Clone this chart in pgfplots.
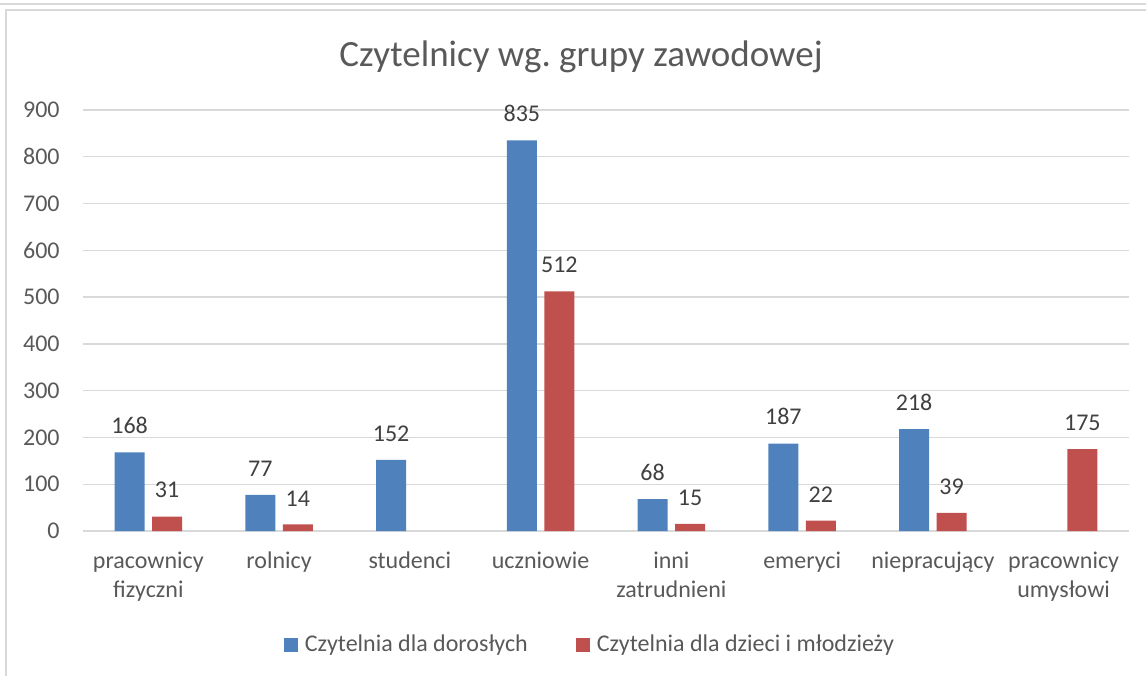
\documentclass[border=0pt]{standalone}
\usepackage{pgfplots}
\pgfplotsset{compat=1.18}
\usepackage{fontspec}
\setmainfont{Carlito}
\definecolor{cblue}{HTML}{4F81BD}
\definecolor{cred}{HTML}{C0504D}
\definecolor{tgray}{HTML}{595959}
\definecolor{lgray}{HTML}{404040}
\definecolor{ggray}{HTML}{D9D9D9}
\begin{document}
\begin{tikzpicture}
\useasboundingbox (0,0) rectangle (573pt,337.5pt);
\draw[ggray, line width=0.8pt] (0,335.5pt) -- (573pt,335.5pt);
\draw[ggray, line width=0.8pt] (3pt,-1pt) -- (3pt,332.5pt) -- (574pt,332.5pt);
\node[font=\fontsize{18.5}{22}\selectfont, text=tgray, anchor=base, inner sep=0pt] at (290.5pt,304pt) {Czytelnicy wg.\ grupy zawodowej};
\begin{axis}[
  at={(41.5pt,72pt)}, anchor=south west,
  scale only axis, width=523pt, height=210.5pt,
  ybar=3.75pt, bar width=15pt,
  xmin=-0.5, xmax=7.5, ymin=0, ymax=900,
  xtick={0,...,7},
  xticklabels={{\strut pracownicy\\fizyczni},{\strut rolnicy},{\strut studenci},{\strut uczniowie},{\strut inni\\zatrudnieni},{\strut emeryci},{\strut niepracujący},{\strut pracownicy\\umysłowi}},
  ytick={0,100,...,900},
  ymajorgrids, major grid style={ggray, line width=0.7pt},
  axis line style={draw=none},
  major tick length=0pt,
  tick style={draw=none},
  /pgf/number format/assume math mode=true,
  yticklabel style={font=\fontsize{12}{14.6}\selectfont, text=tgray, inner sep=0pt, anchor=east, xshift=-11.5pt},
  xticklabel style={font=\fontsize{12}{14.6}\selectfont, text=tgray, inner sep=0pt, anchor=north, align=center, yshift=-8.3pt},
  nodes near coords,
  every node near coord/.append style={font=\fontsize{12}{14.6}\selectfont, text=lgray, inner sep=0pt, anchor=south, yshift=9pt},
  legend columns=2,
  legend style={at={(axis description cs:0.4856,-0.2708)}, anchor=center, draw=none, fill=none,
    font=\fontsize{12}{14.6}\selectfont, text=tgray,
    /tikz/every even column/.append style={column sep=22pt},
    nodes={inner sep=2pt}},
  legend image code/.code={\fill[#1] (0pt,-3.5pt) rectangle (7pt,3.5pt); \path (8.5pt,0pt);},
]
\addplot[fill=cblue, draw=none] coordinates {(0,168) (1,77) (2,152) (3,835) (4,68) (5,187) (6,218)};
\addlegendentry{Czytelnia dla dorosłych}
\addplot[fill=cred, draw=none] coordinates {(0,31) (1,14) (3,512) (4,15) (5,22) (6,39) (7,175)};
\addlegendentry{Czytelnia dla dzieci i młodzieży}
\end{axis}
\end{tikzpicture}
\end{document}
